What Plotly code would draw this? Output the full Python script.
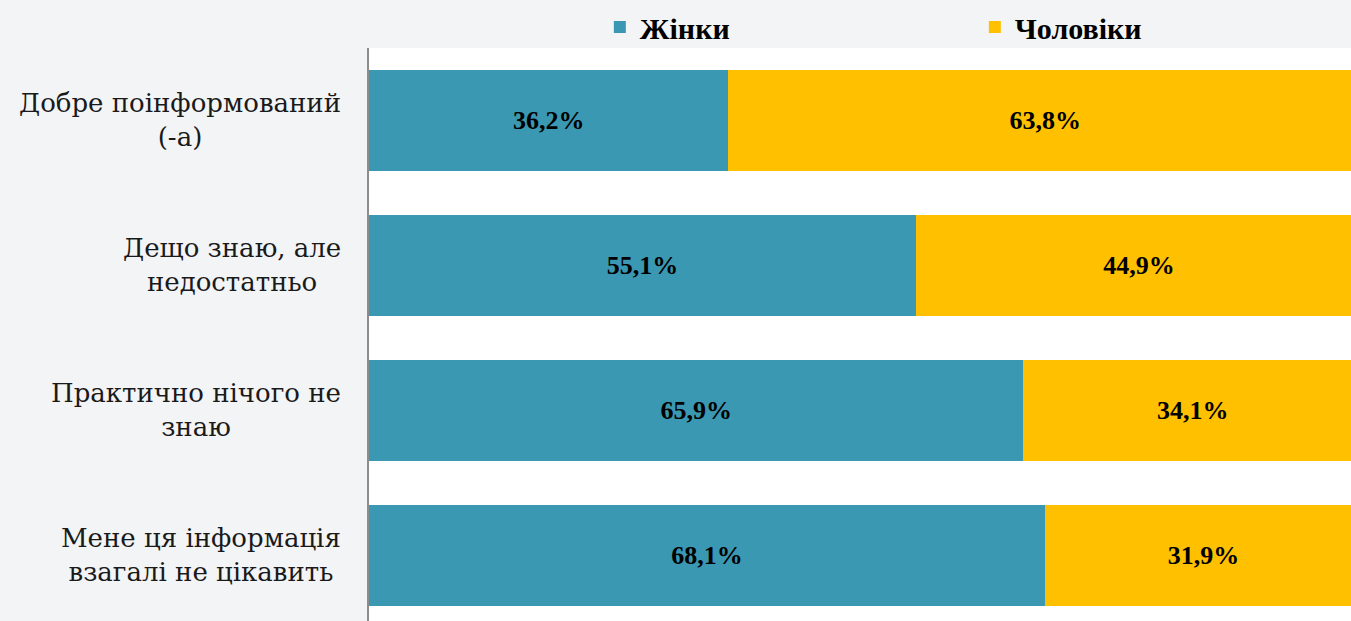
import plotly.graph_objects as go

categories = ["Добре поінформований (-а)", "Дещо знаю, але недостатньо",
              "Практично нічого не знаю", "Мене ця інформація взагалі не цікавить"]
labels = ["Добре поінформований<br>(-а)", "Дещо знаю, але<br>недостатньо",
          "Практично нічого не<br>знаю", "Мене ця інформація<br>взагалі не цікавить"]
women = [36.2, 55.1, 65.9, 68.1]
men = [63.8, 44.9, 34.1, 31.9]

serif = "Liberation Serif"
label_font = "DejaVu Serif"

fig = go.Figure()
fig.add_trace(go.Bar(
    y=categories, x=women, name="Жінки", orientation="h",
    marker=dict(color="#3a98b3", line=dict(width=0)),
    texttemplate="%{x:.1f}%", textposition="inside", insidetextanchor="middle",
    textangle=0, insidetextfont=dict(family=serif, size=26, color="black", weight="bold")))
fig.add_trace(go.Bar(
    y=categories, x=men, name="Чоловіки", orientation="h",
    marker=dict(color="#ffc000", line=dict(width=0)),
    texttemplate="%{x:.1f}%", textposition="inside", insidetextanchor="middle",
    textangle=0, insidetextfont=dict(family=serif, size=26, color="black", weight="bold")))

# category labels, centred lines like the original
for cat, lab in zip(categories, labels):
    fig.add_annotation(x=0, xref="paper", y=cat, yref="y", text=lab,
                       xanchor="right", xshift=-26, align="center", showarrow=False,
                       font=dict(family=label_font, size=26, color="#1a1a1a"))

fig.update_layout(
    width=1351, height=621,
    barmode="stack", bargap=0.3,
    separators=", ",
    paper_bgcolor="#f3f4f6", plot_bgcolor="white",
    margin=dict(l=369, r=0, t=48, b=0, autoexpand=False),
    xaxis=dict(range=[0, 98.9], visible=False, fixedrange=True),
    yaxis=dict(range=[3.452, -0.5], showticklabels=False, showgrid=False,
               showline=True, linecolor="#8c8c8c", linewidth=2, ticks=""),
    showlegend=True,
    legend=dict(orientation="h", xref="container", yref="container",
                x=0.444, y=1 - 27 / 621, xanchor="left", yanchor="middle",
                entrywidth=330, traceorder="normal", bgcolor="rgba(0,0,0,0)",
                font=dict(family=serif, size=30, color="black", weight="bold")),
)

fig.write_html("out.html", config={"displayModeBar": False},
               post_script="document.body.style.margin='0';")
